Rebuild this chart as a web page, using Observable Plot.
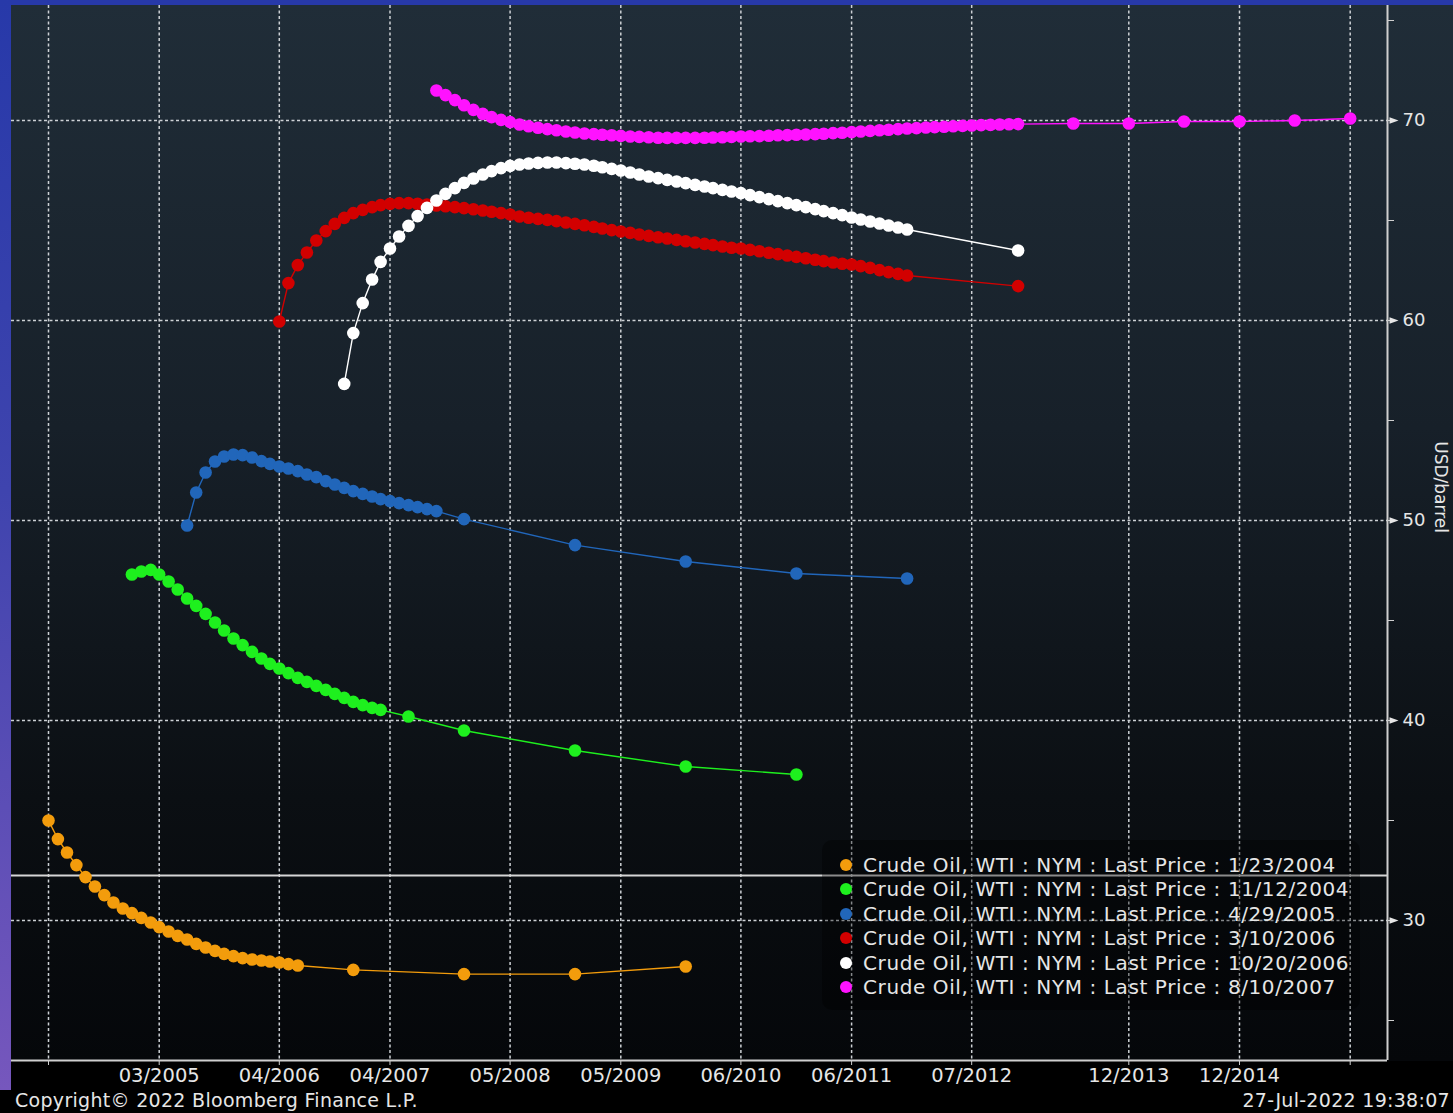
<!DOCTYPE html>
<html>
<head>
<meta charset="utf-8">
<script src="https://cdn.jsdelivr.net/npm/d3@7"></script>
<script src="https://cdn.jsdelivr.net/npm/@observablehq/plot@0.6"></script>
<style>
  html, body { margin: 0; padding: 0; background: #000; overflow: hidden; }
  #wrap { position: relative; width: 1453px; height: 1113px; background: #000; font-family: "DejaVu Sans", sans-serif; overflow: hidden; }
  #bg { position: absolute; left: 11px; top: 5px; width: 1442px; height: 1056px;
        background: linear-gradient(to bottom, #202d38 0%, #172029 40%, #0b0f13 75%, #05070a 100%); }
  #topbar { position: absolute; left: 0; top: 0; width: 1453px; height: 5px; background: #2739a9; }
  #leftbar { position: absolute; left: 0; top: 0; width: 11px; height: 1090px;
             background: linear-gradient(to bottom, #2739a9 0%, #3f44ae 45%, #7657bd 100%); }
  #chart { position: absolute; left: 0; top: 0; }
  #legend { position: absolute; left: 822px; top: 840px; width: 538px; height: 170px;
            background: rgba(0,0,0,0.35); border-radius: 10px; }
  .lrow { position: absolute; left: 0; height: 24px; white-space: nowrap; color: #e6e6e6; font-size: 20px; letter-spacing: 0.6px; line-height: 24px; }
  .ldot { position: absolute; left: 18px; top: 6px; width: 12px; height: 12px; border-radius: 50%; }
  .ltxt { position: absolute; left: 41px; top: 0; }
  .foot { position: absolute; top: 1089px; color: #e6e6e6; font-size: 19px; letter-spacing: 0.3px; white-space: nowrap; }
</style>
</head>
<body>
<div id="wrap">
  <div id="bg"></div>
  <div id="topbar"></div>
  <div id="leftbar"></div>
  <div id="chart"></div>
  <div id="legend"></div>
  <div class="foot" id="copy" style="left:15px;"></div>
  <div class="foot" id="stamp" style="right:3px;"></div>
</div>
<script>
// ---------------- DATA ----------------
const seriesNames = ["1/23/2004", "11/12/2004", "4/29/2005", "3/10/2006", "10/20/2006", "8/10/2007"];
const legendPrefix = "Crude Oil, WTI : NYM : Last Price : ";
const seriesColors = ["#f39c0c", "#1ef01e", "#2166ba", "#d20000", "#ffffff", "#ff12ff"];
// first monthly contract of each curve
const seriesStartMonth = ["2004-03", "2004-12", "2005-06", "2006-04", "2006-11", "2007-09"];

// monthly contract prices (USD/barrel)
const curve20040123 = [35.0, 34.07, 33.4, 32.77, 32.17, 31.7, 31.27, 30.9, 30.6, 30.37, 30.13, 29.9, 29.67, 29.45,
  29.23, 29.05, 28.83, 28.65, 28.48, 28.33, 28.22, 28.12, 28.05, 28.0, 27.95, 27.9, 27.82, 27.75];
const curve20041112 = [47.3, 47.45, 47.53, 47.3, 46.95, 46.55, 46.1, 45.73, 45.33, 44.9, 44.5, 44.1, 43.77, 43.43,
  43.1, 42.83, 42.6, 42.37, 42.13, 41.93, 41.73, 41.53, 41.33, 41.13, 40.93, 40.77, 40.63, 40.53];
const curve20050429 = [49.75, 51.4, 52.4, 52.95, 53.2, 53.3, 53.27, 53.15, 52.97, 52.83, 52.7, 52.6, 52.47, 52.3,
  52.17, 51.97, 51.8, 51.63, 51.47, 51.33, 51.2, 51.07, 50.97, 50.87, 50.77, 50.67, 50.57, 50.47];
const curve20060310 = [59.95, 61.87, 62.77, 63.4, 64.0, 64.47, 64.83, 65.13, 65.37, 65.53,
  65.67, 65.77, 65.83, 65.87, 65.87, 65.84, 65.8, 65.75, 65.71, 65.67,
  65.62, 65.56, 65.5, 65.44, 65.37, 65.3, 65.2, 65.14, 65.08, 65.03,
  64.97, 64.9, 64.83, 64.76, 64.68, 64.6, 64.52, 64.45, 64.38, 64.3,
  64.23, 64.16, 64.1, 64.03, 63.96, 63.9, 63.83, 63.77, 63.7, 63.64,
  63.6, 63.53, 63.46, 63.39, 63.32, 63.25, 63.18, 63.11, 63.04, 62.97,
  62.9, 62.84, 62.8, 62.72, 62.63, 62.52, 62.42, 62.33, 62.25];
const curve20061020 = [56.83, 59.37, 60.87, 62.05, 62.93, 63.6, 64.2, 64.73, 65.22, 65.63,
  66.0, 66.33, 66.62, 66.88, 67.1, 67.3, 67.47, 67.62, 67.73, 67.8,
  67.85, 67.88, 67.9, 67.9, 67.87, 67.84, 67.8, 67.74, 67.66, 67.58,
  67.5, 67.4, 67.3, 67.2, 67.12, 67.03, 66.95, 66.87, 66.78, 66.7,
  66.62, 66.53, 66.45, 66.37, 66.27, 66.17, 66.07, 65.97, 65.87, 65.77,
  65.67, 65.57, 65.47, 65.37, 65.27, 65.15, 65.05, 64.95, 64.85, 64.75,
  64.65, 64.55];
const curve20070810 = [71.5, 71.27, 71.02, 70.76, 70.53, 70.33, 70.17, 70.03, 69.92, 69.8,
  69.71, 69.64, 69.57, 69.51, 69.45, 69.4, 69.35, 69.32, 69.29, 69.26,
  69.23, 69.2, 69.18, 69.16, 69.14, 69.13, 69.13, 69.13, 69.13, 69.14,
  69.15, 69.16, 69.18, 69.2, 69.21, 69.22, 69.24, 69.26, 69.27, 69.29,
  69.3, 69.32, 69.34, 69.37, 69.39, 69.42, 69.45, 69.48, 69.51, 69.54,
  69.57, 69.6, 69.62, 69.65, 69.67, 69.69, 69.71, 69.73, 69.75, 69.77,
  69.78, 69.8, 69.81, 69.82];

// later (sparse) contracts: [contract month, price]
const tail20040123 = [["2006-12", 27.53], ["2007-12", 27.32], ["2008-12", 27.32], ["2009-12", 27.7]];
const tail20041112 = [["2007-06", 40.2], ["2007-12", 39.5], ["2008-12", 38.5], ["2009-12", 37.7], ["2010-12", 37.3]];
const tail20050429 = [["2007-12", 50.07], ["2008-12", 48.77], ["2009-12", 47.95], ["2010-12", 47.35], ["2011-12", 47.1]];
const tail20060310 = [["2012-12", 61.72]];
const tail20061020 = [["2012-12", 63.5]];
const tail20070810 = [["2013-06", 69.85], ["2013-12", 69.85], ["2014-06", 69.95], ["2014-12", 69.95], ["2015-06", 70.0], ["2015-12", 70.1]];

const xTickMonths = ["2004-03", "2005-03", "2006-04", "2007-04", "2008-05", "2009-05", "2010-06", "2011-06", "2012-07", "2013-12", "2014-12", "2015-12"];
const xTickLabels = ["", "03/2005", "04/2006", "04/2007", "05/2008", "05/2009", "06/2010", "06/2011", "07/2012", "12/2013", "12/2014", ""];
const yMajorTicks = [30, 40, 50, 60, 70];
const yMinorTicks = [25, 35, 45, 55, 65, 75];
const referenceLine = [32.25];
const yAxisLabel = "USD/barrel";
const copyrightText = "Copyright\u00A9 2022 Bloomberg Finance L.P.";
const stampText = "27-Jul-2022 19:38:07";

// ---------------- BUILD ----------------
const parseMonth = d3.utcParse("%Y-%m");
const monthly = [curve20040123, curve20041112, curve20050429, curve20060310, curve20061020, curve20070810];
const tails = [tail20040123, tail20041112, tail20050429, tail20060310, tail20061020, tail20070810];
const rows = [];
seriesNames.forEach((name, k) => {
  const start = parseMonth(seriesStartMonth[k]);
  monthly[k].forEach((v, i) => rows.push({series: name, date: d3.utcMonth.offset(start, i), value: v}));
  tails[k].forEach(([m, v]) => rows.push({series: name, date: parseMonth(m), value: v}));
});

const xTickDates = xTickMonths.map(parseMonth);
const labelByTime = new Map(xTickDates.map((d, i) => [+d, xTickLabels[i]]));
const xDomain = [new Date(Date.UTC(2003, 9, 31)), new Date(Date.UTC(2016, 3, 2))];
const yDomain = [23, 75.75];

const gridStroke = "#cdd1d5";
const axisStroke = "#cfcfcf";
const arrowSymbol = {draw(ctx) { ctx.moveTo(-4, -3.2); ctx.lineTo(5, 0); ctx.lineTo(-4, 3.2); ctx.closePath(); }};

const chart = Plot.plot({
  width: 1453,
  height: 1113,
  marginLeft: 11,
  marginRight: 66,
  marginTop: 5,
  marginBottom: 53,
  style: {background: "transparent", color: "#e6e6e6", fontFamily: "'DejaVu Sans', sans-serif", overflow: "visible"},
  x: {type: "utc", domain: xDomain, axis: null},
  y: {domain: yDomain, axis: null},
  color: {domain: seriesNames, range: seriesColors},
  marks: [
    Plot.ruleX(xTickDates, {x: d => d, stroke: gridStroke, strokeWidth: 1.5, strokeDasharray: "3,2.5"}),
    Plot.ruleY(yMajorTicks, {y: d => d, stroke: gridStroke, strokeWidth: 1.5, strokeDasharray: "3,2.5"}),
    Plot.ruleY(referenceLine, {y: d => d, stroke: "#d6d6d6", strokeWidth: 2}),
    Plot.line(rows, {x: "date", y: "value", z: "series", stroke: "series", strokeWidth: 1.4}),
    Plot.dot(rows, {x: "date", y: "value", fill: "series", r: 6.3}),
    Plot.ruleY([yDomain[0]], {y: d => d, stroke: axisStroke, strokeWidth: 2}),
    Plot.ruleX([xDomain[1]], {x: d => d, stroke: axisStroke, strokeWidth: 2}),
    Plot.axisX(xTickDates, {anchor: "bottom", label: null, tickSize: 5, tickPadding: 3, stroke: axisStroke,
      tickFormat: d => labelByTime.get(+d), fontSize: 19.5, fill: "#e6e6e6"}),
    Plot.axisY(yMinorTicks, {anchor: "right", label: null, tickSize: 6, tickFormat: () => "", stroke: axisStroke}),
    Plot.axisY(yMajorTicks, {anchor: "right", label: null, tickSize: 4, tickPadding: 11, stroke: axisStroke,
      fontSize: 18, fill: "#e6e6e6"}),
    Plot.dot(yMajorTicks, {y: d => d, frameAnchor: "right", symbol: arrowSymbol, fill: "#e6e6e6", dx: 6}),
    Plot.text([yAxisLabel], {text: d => d, frameAnchor: "right", rotate: 90, dx: 53, fontSize: 17, fill: "#e6e6e6"})
  ]
});
document.getElementById("chart").appendChild(chart);

// legend
const legend = document.getElementById("legend");
seriesNames.forEach((name, k) => {
  const row = document.createElement("div");
  row.className = "lrow";
  row.style.top = (13 + k * 24.4) + "px";
  const dot = document.createElement("span");
  dot.className = "ldot";
  dot.style.background = seriesColors[k];
  const txt = document.createElement("span");
  txt.className = "ltxt";
  txt.textContent = legendPrefix + name;
  row.appendChild(dot);
  row.appendChild(txt);
  legend.appendChild(row);
});
document.getElementById("copy").textContent = copyrightText;
document.getElementById("stamp").textContent = stampText;
</script>
</body>
</html>
